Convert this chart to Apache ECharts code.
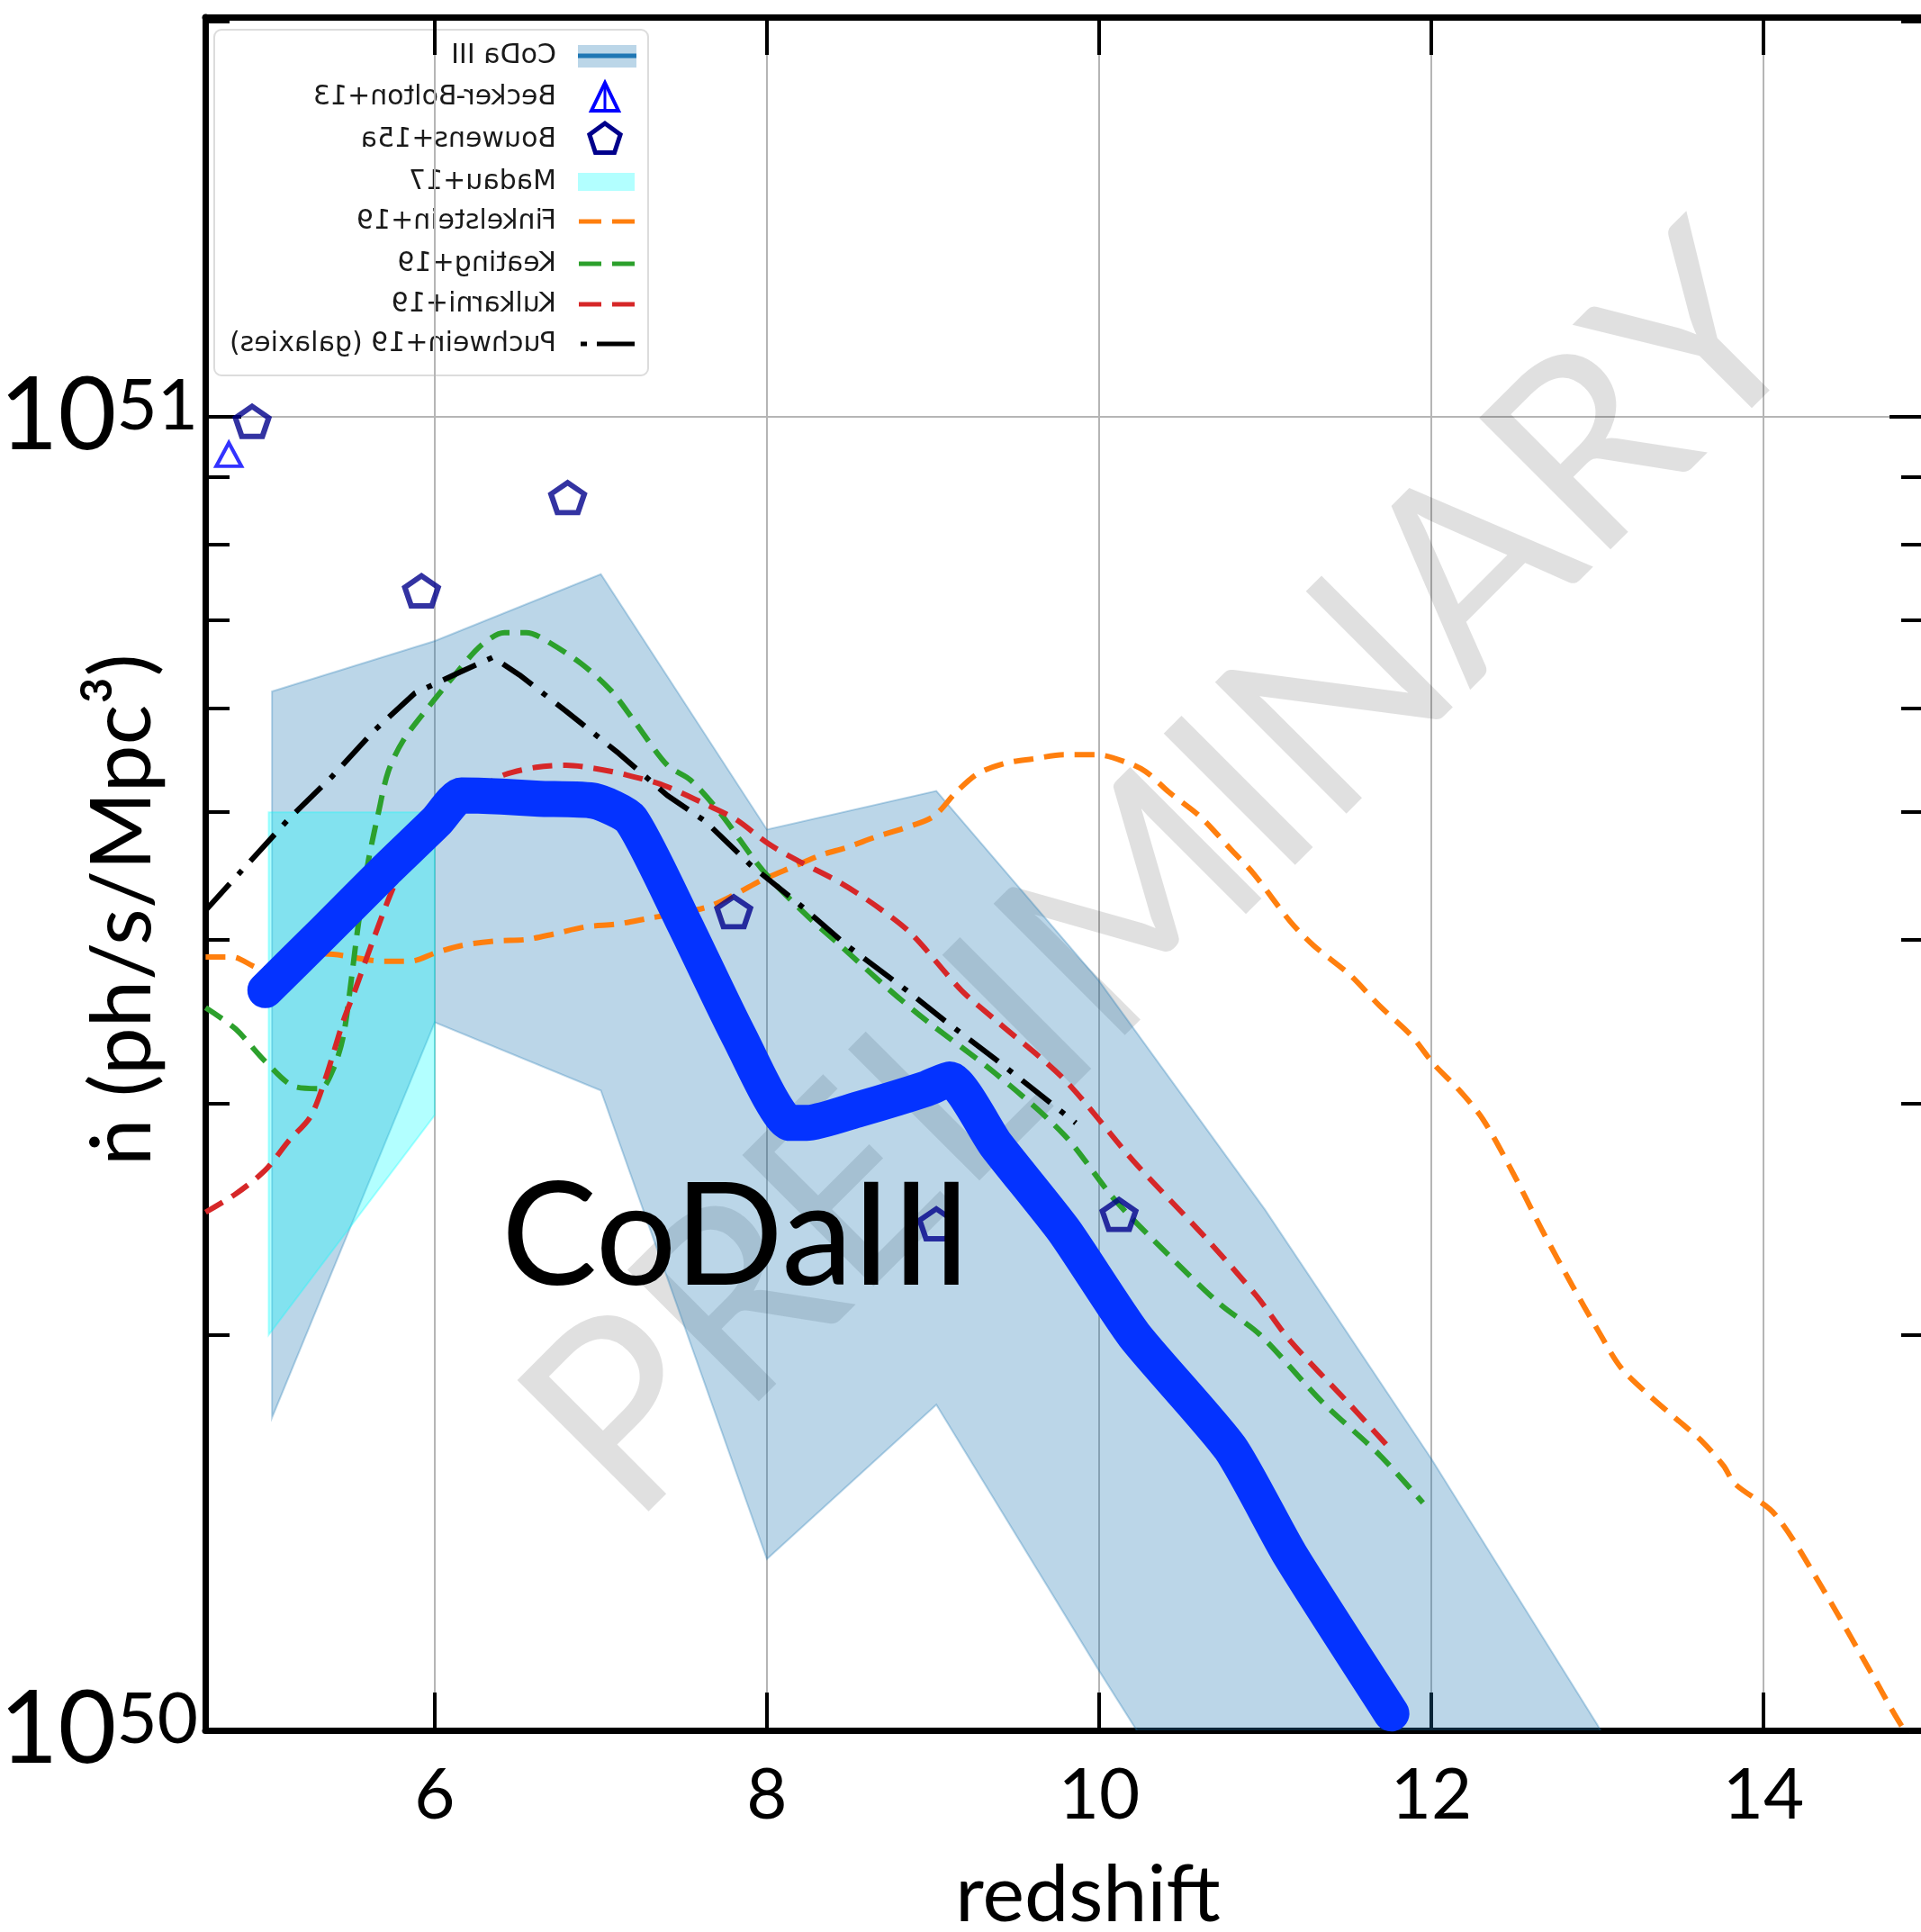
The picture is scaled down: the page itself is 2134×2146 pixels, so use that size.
<!DOCTYPE html>
<html lang="en">
<head>
    <meta charset="UTF-8">
    <title>CoDa III ionizing photon production rate vs redshift</title>
    <script type="text/javascript" src="https://cdn.jsdelivr.net/npm/echarts@6/dist/echarts.min.js"></script>
    <style type="text/css">
        html, body { margin: 0; padding: 0; background: #fff; }
        #main { width: 2134px; height: 2146px; }
    </style>
</head>
<body>
<div id="main"></div>
<script type="text/javascript">
    // all rates in units of 1e50 ph/s/Mpc^3
    var UNIT = 1e50;

    // CoDa III (hand-drawn thick curve)
    var codaX = [4.98, 5.34, 5.70, 6.01, 6.16, 6.40, 6.63, 6.96, 7.18, 7.50, 7.83, 8.14, 8.24, 8.55, 8.96, 9.10, 9.38, 9.79, 10.21, 10.79, 11.15, 11.76];
    var codaY = [3.66, 4.06, 4.51, 4.92, 5.15, 5.14, 5.12, 5.10, 4.94, 4.12, 3.38, 2.90, 2.90, 2.97, 3.08, 3.13, 2.79, 2.40, 2.00, 1.64, 1.36, 1.03];

    // CoDa III spread
    var bandX  = [5.02, 6.0, 7.0, 8.0, 9.02, 10.0, 11.0, 12.0, 13.0, 14.0];
    var bandHi = [6.18, 6.75, 7.59, 4.85, 5.19, 3.72, 2.49, 1.61, 1.01, 0.60];
    var bandLo = [1.73, 3.46, 3.07, 1.35, 1.77, 1.11, 0.70, 0.50, 0.40, 0.30];

    // Madau+17
    var madauX  = [5.0, 6.0];
    var madauHi = [5.0, 5.0];
    var madauLo = [2.0, 2.94];

    // Finkelstein+19
    var finkX = [4.62, 4.78, 4.96, 5.34, 5.70, 5.85, 6.01, 6.17, 6.37, 6.55, 6.72, 6.91, 7.10, 7.28, 7.63, 7.81, 7.97, 8.15, 8.33, 8.48,
                 8.66, 8.82, 9.00, 9.14, 9.27, 9.44, 9.60, 9.79, 9.99, 10.16, 10.28, 10.42, 10.61, 10.79, 10.93, 11.15, 11.29, 11.51, 11.69, 11.88,
                 12.02, 12.16, 12.31, 12.49, 12.67, 12.85, 13.00, 13.14, 13.31, 13.49, 13.63, 13.76, 13.83, 14.07, 14.36, 14.66, 14.85, 14.98];
    var finkY = [3.88, 3.88, 3.80, 3.90, 3.85, 3.85, 3.91, 3.96, 3.99, 4.00, 4.04, 4.09, 4.11, 4.15, 4.23, 4.33, 4.44, 4.54, 4.64, 4.70,
                 4.79, 4.86, 4.96, 5.18, 5.35, 5.45, 5.49, 5.53, 5.53, 5.46, 5.37, 5.18, 4.96, 4.69, 4.49, 4.13, 3.96, 3.76, 3.56, 3.38,
                 3.21, 3.08, 2.92, 2.66, 2.40, 2.18, 2.02, 1.89, 1.80, 1.72, 1.66, 1.59, 1.54, 1.46, 1.28, 1.10, 1.00, 0.96];

    // Keating+19
    var keatX = [4.62, 4.80, 4.98, 5.16, 5.31, 5.39, 5.45, 5.50, 5.54, 5.60, 5.66, 5.72, 5.81, 5.97, 6.12, 6.28, 6.42, 6.55, 6.64, 6.88,
                 7.06, 7.20, 7.40, 7.54, 7.72, 7.93, 8.04, 8.26, 8.44, 8.74, 8.96, 9.38, 9.79, 10.10, 10.42, 10.73, 10.97, 11.34, 11.69, 11.95];
    var keatY = [3.55, 3.42, 3.23, 3.09, 3.08, 3.19, 3.38, 3.75, 4.11, 4.59, 4.99, 5.37, 5.67, 6.03, 6.36, 6.70, 6.85, 6.85, 6.79, 6.49,
                 6.19, 5.87, 5.43, 5.29, 4.99, 4.59, 4.42, 4.15, 3.96, 3.66, 3.47, 3.16, 2.84, 2.53, 2.30, 2.11, 2.00, 1.78, 1.62, 1.49];

    // Kulkarni+19
    var kulkX = [4.62, 4.80, 4.98, 5.12, 5.25, 5.34, 5.45, 5.52, 5.63, 5.74, 5.88, 6.04, 6.30, 6.42, 6.61, 6.79, 6.96, 7.15, 7.38, 7.63,
                 7.81, 8.01, 8.19, 8.44, 8.66, 8.87, 9.17, 9.38, 9.79, 10.21, 10.63, 10.95, 11.15, 11.51, 11.73];
    var kulkY = [2.48, 2.56, 2.67, 2.81, 2.93, 3.13, 3.47, 3.66, 4.00, 4.35, 4.76, 5.04, 5.24, 5.34, 5.41, 5.43, 5.40, 5.34, 5.24, 5.07,
                 4.94, 4.73, 4.59, 4.42, 4.24, 4.04, 3.66, 3.47, 3.13, 2.71, 2.38, 2.14, 1.98, 1.77, 1.65];

    // Puchwein+19 (galaxies)
    var puchX = [4.62, 4.89, 5.12, 5.38, 5.63, 5.88, 6.15, 6.35, 6.51, 6.79, 7.11, 7.40, 7.63, 7.90, 8.19, 8.48, 8.84, 9.07, 9.38, 9.86];
    var puchY = [4.21, 4.59, 4.94, 5.32, 5.76, 6.16, 6.39, 6.56, 6.36, 5.97, 5.54, 5.15, 4.92, 4.56, 4.26, 3.96, 3.66, 3.47, 3.24, 2.90];

    // Becker-Bolton+13 and Bouwens+15a points
    var beckerX = [4.76];
    var beckerY = [9.36];
    var bouwensX = [4.90, 5.92, 6.80, 7.80, 9.02, 10.12];
    var bouwensY = [9.92, 7.37, 8.68, 4.20, 2.43, 2.47];

    // axes
    var X_MIN = 4.618, X_MAX = 14.976;
    var Y_MIN_LOG = 50, Y_MAX_LOG = 51.3043;
    var xTickValues = [6, 8, 10, 12, 14];
    var yLabelPowers = [50, 51];
    var yMinorFactors = [2, 3, 4, 5, 6, 7, 8, 9];

    var legendNames = ['CoDa III', 'Becker-Bolton+13', 'Bouwens+15a', 'Madau+17',
                       'Finkelstein+19', 'Keating+19', 'Kulkarni+19', 'Puchwein+19 (galaxies)'];

    var yMinorLog = [];
    yMinorFactors.forEach(function (k) { yMinorLog.push(50 + Math.log10(k)); });
    yMinorLog.push(51 + Math.log10(2));

    var FONT = 'Lato, "Open Sans", "DejaVu Sans", sans-serif';
    var BAND_FILL = 'rgba(31,119,180,0.3)';
    var MADAU_FILL = 'rgba(0,255,255,0.3)';
    var PENTAGON = 'path://M10,0 L19.51,6.91 L15.88,18.09 L4.12,18.09 L0.49,6.91 Z';

    function pairs(xs, ys) {
        return xs.map(function (x, i) { return [x, ys[i] * UNIT]; });
    }

    function bandSeries(name, xs, lo, hi, fill) {
        return {
            type: 'custom',
            name: name,
            xAxisIndex: 0,
            yAxisIndex: 0,
            z: 2,
            silent: true,
            data: xs.map(function (x, i) { return [x, lo[i] * UNIT, hi[i] * UNIT]; }),
            renderItem: function (params, api) {
                if (params.dataIndex !== 0) return null;
                var top = [], bot = [];
                for (var i = 0; i < xs.length; i++) {
                    top.push(api.coord([xs[i], hi[i] * UNIT]));
                    bot.unshift(api.coord([xs[i], lo[i] * UNIT]));
                }
                var cs = params.coordSys;
                return {
                    type: 'polygon',
                    shape: { points: top.concat(bot) },
                    style: { fill: fill, stroke: fill, lineWidth: 2 },
                    clipPath: { type: 'rect', shape: { x: cs.x, y: cs.y, width: cs.width, height: cs.height } }
                };
            }
        };
    }

    function curve(name, xs, ys, color, dash, smooth) {
        return {
            type: 'line',
            name: name,
            xAxisIndex: 0,
            yAxisIndex: 0,
            z: 3,
            silent: true,
            symbol: 'none',
            smooth: smooth,
            data: pairs(xs, ys),
            lineStyle: { color: color, width: 6, type: dash, cap: 'butt' }
        };
    }

    function tickAxis(position, values, length, showLine) {
        return {
            type: 'value',
            position: position,
            min: Y_MIN_LOG,
            max: Y_MAX_LOG,
            axisLine: { show: showLine, onZero: false, lineStyle: { color: '#000', width: 7 } },
            axisTick: { show: true, inside: true, length: length, customValues: values,
                        lineStyle: { color: '#000', width: 4 } },
            axisLabel: { show: false },
            splitLine: { show: false }
        };
    }

    // legend is drawn mirrored (as in the source figure) about x = 479
    var LEG_MIRROR = 958;
    var legendRowY = [62, 108, 155, 202, 246, 293, 338, 382];
    function lx(x) { return LEG_MIRROR - x; }
    function hline(x1, x2, y, color, w) {
        return { type: 'line', z: -1, shape: { x1: lx(x1), y1: y, x2: lx(x2), y2: y },
                 style: { stroke: color, lineWidth: w } };
    }
    var legendChildren = [
        { type: 'rect', z: -1, shape: { x: 238, y: 33, width: 482, height: 384, r: 8 },
          style: { fill: 'rgba(255,255,255,0.8)', stroke: '#dcdcdc', lineWidth: 2 } },
        { type: 'rect', z: -1, shape: { x: lx(707), y: 50, width: 65, height: 25 }, style: { fill: BAND_FILL } },
        hline(642, 707, legendRowY[0], '#1f77b4', 5),
        { type: 'polygon', z: -1, shape: { points: [[lx(672), 92], [lx(657), 123], [lx(687), 123]] },
          style: { fill: 'none', stroke: '#0000ff', lineWidth: 4 } },
        { type: 'line', z: -1, shape: { x1: lx(672), y1: 92, x2: lx(672), y2: 123 },
          style: { stroke: '#0000ff', lineWidth: 3 } },
        { type: 'rect', z: -1, shape: { x: lx(705), y: 192, width: 63, height: 20 }, style: { fill: MADAU_FILL } },
        hline(643, 668, legendRowY[4], '#ff7f0e', 5), hline(680, 705, legendRowY[4], '#ff7f0e', 5),
        hline(643, 668, legendRowY[5], '#2ca02c', 5), hline(680, 705, legendRowY[5], '#2ca02c', 5),
        hline(643, 668, legendRowY[6], '#d62728', 5), hline(680, 705, legendRowY[6], '#d62728', 5),
        hline(645, 652, legendRowY[7], '#000', 5), hline(663, 705, legendRowY[7], '#000', 5)
    ];
    var pent = [];
    for (var k = 0; k < 5; k++) {
        var a = (-90 + 72 * k) * Math.PI / 180;
        pent.push([lx(672) + 18 * Math.cos(a), legendRowY[2] + 18 * Math.sin(a)]);
    }
    legendChildren.push({ type: 'polygon', z: -1, shape: { points: pent },
                          style: { fill: 'none', stroke: '#00008b', lineWidth: 5 } });
    legendNames.forEach(function (name, i) {
        legendChildren.push({
            type: 'text', z: -1, x: lx(618), y: legendRowY[i],
            style: { text: name, fill: '#1a1a1a', fontSize: 30, fontFamily: '"DejaVu Sans"',
                     textAlign: 'left', align: 'left', textVerticalAlign: 'middle', verticalAlign: 'middle' }
        });
    });

    var option = {
        animation: false,
        backgroundColor: '#fff',
        grid: { left: 228, top: 19, width: 1911, height: 1903, containLabel: false, outerBoundsMode: 'none' },
        xAxis: [
            {
                type: 'value', position: 'bottom', min: X_MIN, max: X_MAX,
                axisLine: { show: true, onZero: false, lineStyle: { color: '#000', width: 7 } },
                axisTick: { show: true, inside: true, length: 42, customValues: xTickValues,
                            lineStyle: { color: '#000', width: 4 } },
                axisLabel: { show: true, customValues: xTickValues, margin: 34, color: '#000',
                             fontFamily: FONT, fontSize: 78, lineHeight: 78 },
                splitLine: { show: true, lineStyle: { color: '#b5b5b5', width: 2 } },
                name: 'redshift', nameLocation: 'middle', nameGap: 140,
                nameTextStyle: { fontFamily: FONT, fontSize: 88, lineHeight: 88, color: '#000', padding: [0, 0, 0, 50] }
            },
            {
                type: 'value', position: 'top', min: X_MIN, max: X_MAX,
                axisLine: { show: true, onZero: false, lineStyle: { color: '#000', width: 7 } },
                axisTick: { show: true, inside: true, length: 42, customValues: xTickValues,
                            lineStyle: { color: '#000', width: 4 } },
                axisLabel: { show: false },
                splitLine: { show: false }
            }
        ],
        yAxis: [
            {
                type: 'log', logBase: 10, position: 'left',
                min: Math.pow(10, Y_MIN_LOG), max: Math.pow(10, Y_MAX_LOG),
                axisLine: { show: true, onZero: false, lineStyle: { color: '#000', width: 7 } },
                axisTick: { show: false },
                axisLabel: { show: false },
                splitLine: { show: true, lineStyle: { color: '#b5b5b5', width: 2 } },
                name: 'ṅ (ph/s/Mpc³)', nameLocation: 'middle', nameGap: 44, nameRotate: 90,
                nameTextStyle: { fontFamily: FONT, fontSize: 94, lineHeight: 94, color: '#000', padding: [0, 80, 0, 0] }
            },
            {
                type: 'value', position: 'left', min: Y_MIN_LOG, max: Y_MAX_LOG,
                axisLine: { show: false },
                axisTick: { show: true, inside: true, length: 40, customValues: yLabelPowers,
                            lineStyle: { color: '#000', width: 4 } },
                axisLabel: {
                    show: true, customValues: yLabelPowers, margin: 8,
                    formatter: function (v) { return '{b|10}{s|' + Math.round(v) + '}'; },
                    rich: {
                        b: { fontFamily: FONT, fontSize: 112, lineHeight: 112, color: '#000' },
                        s: { fontFamily: FONT, fontSize: 78, lineHeight: 78, color: '#000',
                             verticalAlign: 'top', padding: [6, 0, 0, 0] }
                    }
                },
                splitLine: { show: false }
            },
            tickAxis('left', yMinorLog, 27, false),
            tickAxis('right', yLabelPowers, 40, true),
            tickAxis('right', yMinorLog, 27, false)
        ],
        graphic: [
            {
                type: 'text', z: 1, x: 1295, y: 973, rotation: Math.PI / 4,
                style: { text: 'PRELIMINARY', fill: 'rgba(0,0,0,0.12)', fontSize: 288, fontFamily: FONT,
                         textAlign: 'center', align: 'center', textVerticalAlign: 'middle', verticalAlign: 'middle' }
            },
            {
                type: 'text', z: 100, x: 557, y: 1376,
                style: { text: 'CoDaIII', fill: '#000', fontSize: 159, fontFamily: FONT,
                         textAlign: 'left', align: 'left', textVerticalAlign: 'middle', verticalAlign: 'middle' }
            },
            { type: 'group', x: LEG_MIRROR, y: 0, scaleX: -1, children: legendChildren }
        ],
        series: [
            bandSeries('CoDa III spread', bandX, bandLo, bandHi, BAND_FILL),
            bandSeries('Madau+17', madauX, madauLo, madauHi, MADAU_FILL),
            curve('Finkelstein+19', finkX, finkY, '#ff7f0e', [22, 12], 0.3),
            curve('Keating+19', keatX, keatY, '#2ca02c', [22, 12], 0.3),
            curve('Kulkarni+19', kulkX, kulkY, '#d62728', [22, 12], 0.3),
            curve('Puchwein+19 (galaxies)', puchX, puchY, '#000', [40, 14, 6, 14], false),
            {
                type: 'scatter', name: 'Becker-Bolton+13', xAxisIndex: 0, yAxisIndex: 0, z: 4,
                data: pairs(beckerX, beckerY), symbol: 'triangle', symbolSize: [28, 26],
                itemStyle: { color: 'rgba(0,0,0,0)', borderColor: '#0000ff', borderWidth: 4 }
            },
            {
                type: 'scatter', name: 'Bouwens+15a', xAxisIndex: 0, yAxisIndex: 0, z: 4,
                data: pairs(bouwensX, bouwensY), symbol: PENTAGON, symbolSize: [37, 35], symbolKeepAspect: true,
                itemStyle: { color: 'rgba(0,0,0,0)', borderColor: '#00008b', borderWidth: 6 }
            },
            {
                type: 'line', name: 'CoDa III', xAxisIndex: 0, yAxisIndex: 0, z: 5, silent: true,
                symbol: 'none', smooth: 0.2, data: pairs(codaX, codaY),
                lineStyle: { color: '#0433ff', width: 40, cap: 'round', join: 'round' }
            }
        ]
    };

    var myChart = echarts.init(document.getElementById('main'), null, { renderer: 'canvas' });
    myChart.setOption(option);
</script>
</body>
</html>
